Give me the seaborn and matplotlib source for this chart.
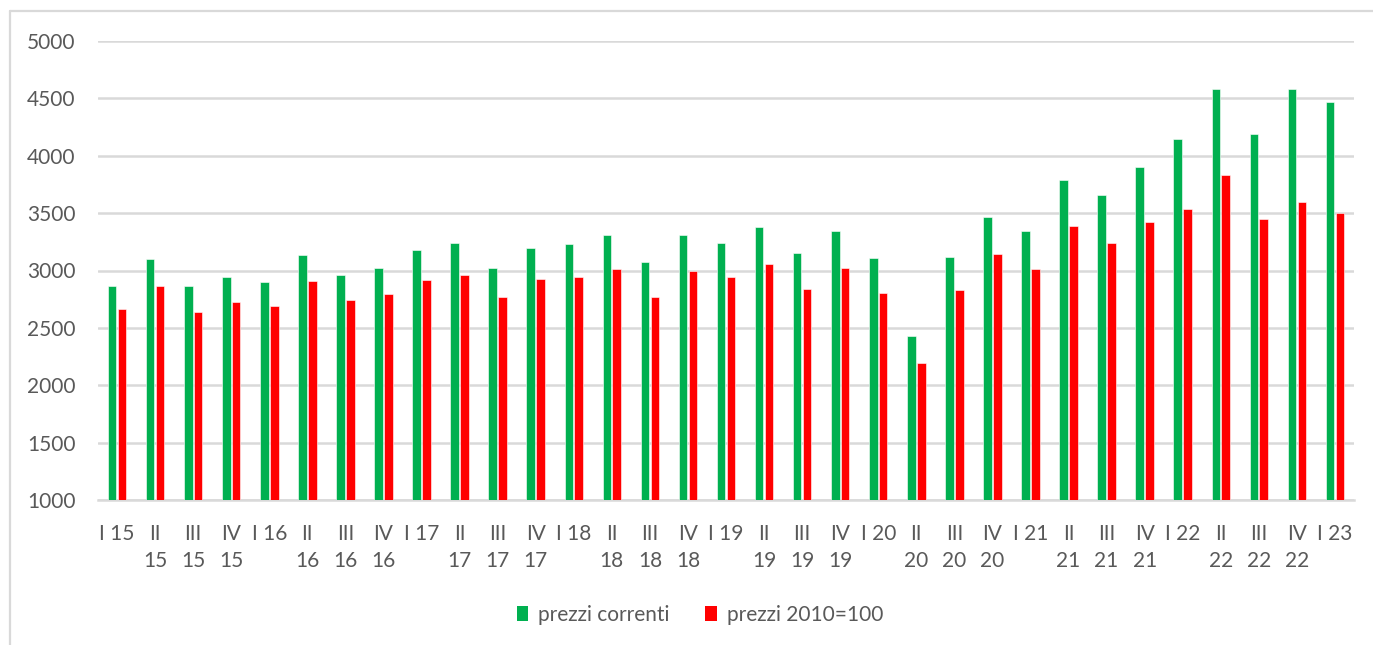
import matplotlib
matplotlib.use("Agg")
import matplotlib.pyplot as plt
import seaborn as sns
import pandas as pd
from matplotlib.patches import Patch
from matplotlib.lines import Line2D

categories = ["I 15", "II\n15", "III\n15", "IV\n15",
              "I 16", "II\n16", "III\n16", "IV\n16",
              "I 17", "II\n17", "III\n17", "IV\n17",
              "I 18", "II\n18", "III\n18", "IV\n18",
              "I 19", "II\n19", "III\n19", "IV\n19",
              "I 20", "II\n20", "III\n20", "IV\n20",
              "I 21", "II\n21", "III\n21", "IV\n21",
              "I 22", "II\n22", "III\n22", "IV\n22",
              "I 23"]
prezzi_correnti = [2865, 3100, 2865, 2942, 2896, 3131, 2963, 3020,
                   3177, 3244, 3020, 3198, 3233, 3311, 3076, 3311,
                   3244, 3378, 3154, 3343, 3108, 2430, 3120, 3465,
                   3343, 3791, 3657, 3901, 4149, 4585, 4192, 4585,
                   4471]
prezzi_2010 = [2663, 2863, 2640, 2727, 2692, 2910, 2739, 2797,
               2919, 2963, 2773, 2930, 2942, 3009, 2773, 2997,
               2942, 3053, 2840, 3020, 2806, 2195, 2829, 3143,
               3009, 3390, 3244, 3422, 3532, 3835, 3445, 3599,
               3500]
series_names = ["prezzi correnti", "prezzi 2010=100"]
colors = ["#00B050", "#FF0000"]
yticks = [1000, 1500, 2000, 2500, 3000, 3500, 4000, 4500, 5000]

df = pd.DataFrame({
    "cat": categories * 2,
    "val": prezzi_correnti + prezzi_2010,
    "serie": [series_names[0]] * len(categories) + [series_names[1]] * len(categories),
})

sns.set_style("white")
plt.rcParams["font.family"] = ["Lato", "DejaVu Sans"]
TXT = "#595959"
GRID = "#D9D9D9"

fig = plt.figure(figsize=(13.73, 6.45), dpi=100)
ax = fig.add_axes([98 / 1373, 1 - 500 / 645, (1354 - 98) / 1373, (500 - 41) / 645])

sns.barplot(data=df, x="cat", y="val", hue="serie", order=categories,
            hue_order=series_names, palette=colors, saturation=1, width=0.52, gap=0.13,
            edgecolor="white", linewidth=0.4, legend=False, ax=ax, zorder=3)

ax.set_ylim(1000, 5000)
ax.set_xlim(-0.5, len(categories) - 0.5)
ax.set_yticks(yticks)
ax.set_yticklabels([str(v) for v in yticks])
ax.set_xticks(range(len(categories)))
ax.set_xticklabels(categories, linespacing=1.45)
ax.set_xlabel("")
ax.set_ylabel("")
ax.yaxis.grid(True, color=GRID, linewidth=1.8, zorder=0)
ax.set_axisbelow(True)
for s in ["top", "right", "left"]:
    ax.spines[s].set_visible(False)
ax.spines["bottom"].set_color(GRID)
ax.spines["bottom"].set_linewidth(1.8)
ax.tick_params(axis="both", length=0, labelsize=15, colors=TXT)
ax.tick_params(axis="y", pad=16)
ax.tick_params(axis="x", pad=17)

handles = [Patch(facecolor=c, edgecolor="none") for c in colors]
fig.legend(handles, series_names, loc="center", bbox_to_anchor=(700 / 1373, 1 - 615 / 645),
           ncol=2, frameon=False, fontsize=15, handlelength=0.55, handleheight=0.7,
           handletextpad=0.5, columnspacing=1.7, labelcolor=TXT)

# outer chart frame (top and left edges visible)
fig.add_artist(Line2D([10 / 1373, 1.0], [1 - 11 / 645] * 2, transform=fig.transFigure,
                      color=GRID, linewidth=1.6))
fig.add_artist(Line2D([10 / 1373] * 2, [0.0, 1 - 11 / 645], transform=fig.transFigure,
                      color=GRID, linewidth=1.6))

fig.savefig("out.png", dpi=100)
